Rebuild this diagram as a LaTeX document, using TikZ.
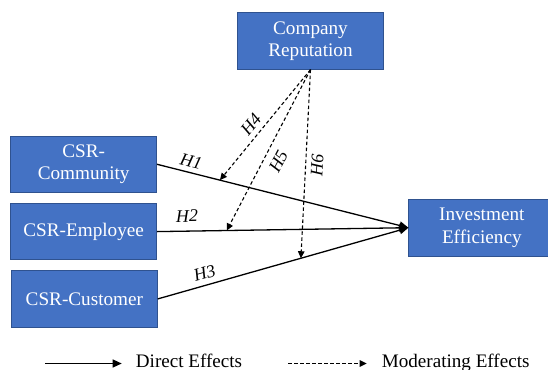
\documentclass[tikz,border=0pt]{standalone}
\usepackage{fontspec}
\setmainfont{Liberation Serif}
\usetikzlibrary{positioning}
\usetikzlibrary{arrows.meta}
\definecolor{boxblue}{HTML}{4472C4}
\definecolor{boxline}{HTML}{2F528F}

\begin{document}
\begin{tikzpicture}[x=1pt,y=-1pt,
	box/.style={draw=boxline, line width=0.8pt, fill=boxblue, text=white, minimum width=146pt, minimum height=56.5pt, inner sep=2pt, align=center, font=\fontsize{19.2}{22.6}\selectfont},
	direct/.style={line width=1.3pt, -{Triangle[length=9pt,width=8pt]}},
	moder/.style={line width=1.1pt, dash pattern=on 3.5pt off 2.5pt, -{Triangle[length=7pt,width=6.5pt]}},
	hyp/.style={font=\fontsize{17.8}{20}\selectfont\itshape, inner sep=1pt},
	leg/.style={font=\fontsize{19.1}{22}\selectfont, inner sep=0pt}]
		\useasboundingbox (0,0) rectangle (548,369);
		\node (com) [box] at (83.7,164.3) {CSR-\\Community};
		\node (emp) [box, below=10pt of com] {CSR-Employee};
		\node (cus) [box, below=10pt of emp, xshift=0.7pt] {CSR-Customer};
		\node (rep) [box, above right=66pt and 80pt of com] {Company\\Reputation};
		\node (inv) [box, right=251.3pt of emp, yshift=3.9pt] {Investment\\Efficiency};
		\draw[direct] (com.east) -- coordinate[pos=0.25] (m1) node[hyp, pos=0.125, above=3.5pt, sloped] {H1} (inv.west);
		\draw[direct] (emp.east) -- coordinate[pos=0.277] (m2) node[hyp, pos=0.12, above=7.5pt, sloped] {H2} (inv.west);
		\draw[direct] (cus.east) -- coordinate[pos=0.571] (m3) node[hyp, pos=0.2, above=4.5pt, sloped] {H3} (inv.west);
		\draw[moder] (rep.south) -- node[hyp, pos=0.56, above=4pt, sloped] {H4} (m1);
		\draw[moder] (rep.south) -- node[hyp, pos=0.53, below=6.5pt, sloped] {H5} (m2);
		\draw[moder] (rep.south) -- node[hyp, pos=0.506, below=4pt, sloped] {H6} (m3);
		\coordinate (l1) at (45,363.5);
		\coordinate (l2) at (121.7,363.5);
		\coordinate (l3) at (288.3,363.5);
		\coordinate (l4) at (366.7,363.5);
		\draw[direct] (l1) -- (l2);
		\draw[moder] (l3) -- (l4);
		\node (ldir) [leg, right=14pt of l2, anchor=base west, yshift=-4pt] {Direct Effects};
		\node (lmod) [leg, right=15pt of l4, anchor=base west, yshift=-4pt] {Moderating Effects};
\end{tikzpicture}
\end{document}
